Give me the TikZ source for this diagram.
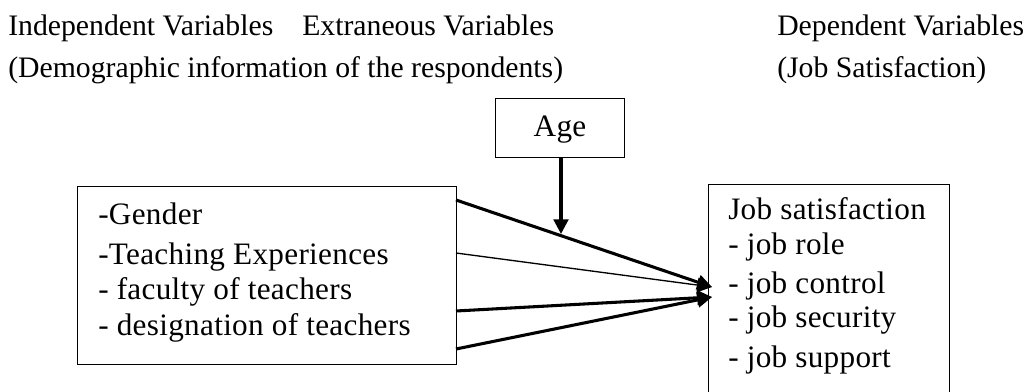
\documentclass[tikz,border=0pt]{standalone}
\usepackage{fontspec}
\setmainfont{Liberation Serif}
\newfontfamily\boxfont[LetterSpace=1]{Liberation Serif}
\usetikzlibrary{arrows.meta}
\begin{document}
\begin{tikzpicture}[x=0.75pt,y=-0.75pt,
  lbl/.style={anchor=base west,inner sep=0pt,font=\fontsize{22.3}{26}\selectfont},
  blbl/.style={anchor=base west,inner sep=0pt,font=\boxfont\fontsize{23.4}{28}\selectfont},
  box/.style={draw,line width=1.1pt,inner sep=0pt,anchor=north west},
  thickarr/.style={line width=2.3pt,-{Triangle[length=11pt,width=11pt]}},
  thinarr/.style={line width=1pt,-{Triangle[length=11pt,width=11pt]}}]
\useasboundingbox (0,0) rectangle (1029,392);
% header texts
\node[lbl] (h1) at (8,36) {Independent Variables};
\node[lbl] (h2) at (302,36) {Extraneous Variables};
\node[lbl] (h3) at (8,78) {(Demographic information of the respondents)};
\node[lbl] (h4) at (777,36) {Dependent Variables};
\node[lbl] (h5) at (777,78) {(Job Satisfaction)};
% boxes
\node[box,minimum width=129*0.75pt,minimum height=59*0.75pt] (age) at (495,98) {};
\node[blbl,anchor=base] (agetxt) at (560,137) {Age};
\node[box,minimum width=379*0.75pt,minimum height=178*0.75pt] (L) at (77,186) {};
\node[box,minimum width=241*0.75pt,minimum height=220*0.75pt] (R) at (708,184) {};
% left texts
\node[blbl] (l1) at (98,225) {-Gender};
\node[blbl] (l2) at (98,265) {-Teaching Experiences};
\node[blbl] (l3) at (98,300) {- faculty of teachers};
\node[blbl] (l4) at (98,335) {- designation of teachers};
% right texts
\node[blbl] (r1) at (728,220) {Job satisfaction};
\node[blbl] (r2) at (728,255) {- job role};
\node[blbl] (r3) at (728,293) {- job control};
\node[blbl] (r4) at (728,327) {- job security};
\node[blbl] (r5) at (728,367) {- job support};
% connector points
\coordinate (s1) at (456,200);
\coordinate (s2) at (456,253);
\coordinate (s3) at (456,311);
\coordinate (s4) at (456,349);
\coordinate (e1) at (712,287);
\coordinate (e2) at (712,297);
\coordinate (a0) at (561,157);
\coordinate (a1) at (561,234);
\draw[thickarr] (s1) -- (e1);
\draw[thinarr] (s2) -- (e1);
\draw[thickarr] (s3) -- (e2);
\draw[thickarr] (s4) -- (e2);
\draw[thickarr] (a0) -- (a1);
\end{tikzpicture}
\end{document}
